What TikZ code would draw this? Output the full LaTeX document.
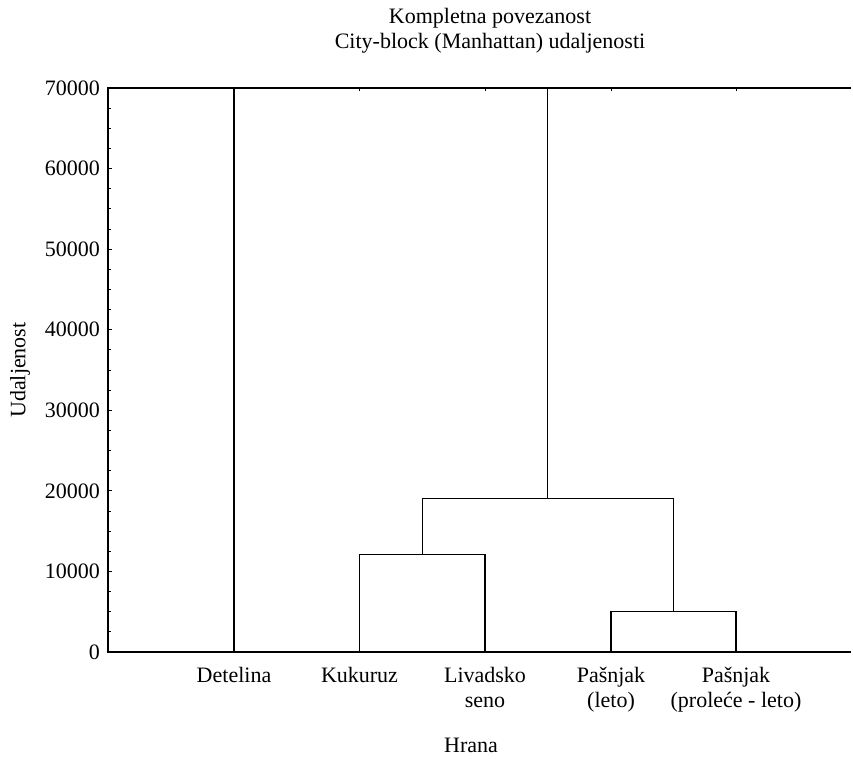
\documentclass[tikz,border=0pt]{standalone}
\usepackage{fontspec}
\setmainfont{Liberation Serif}
\usetikzlibrary{positioning}
\tikzstyle{branch} = [draw, line width=1.1pt, line cap=rect]
\tikzstyle{frame} = [draw, line width=1.5pt]
\tikzstyle{tick} = [draw, line width=0.8pt]
\tikzstyle{lbl} = [font=\fontsize{22}{25}\selectfont]

\begin{document}
\begin{tikzpicture}[x=1pt, y=1pt]
            \tikzstyle{every node}+=[inner sep=0pt, lbl]
            \useasboundingbox (0,0) rectangle (853,758);
            \draw (490,734) node [anchor=base] (t1) {Kompletna povezanost};
            \draw (490,709) node [anchor=base] (t2) {City-block (Manhattan) udaljenosti};
            \draw (20,388) node [rotate=90] (ytitle) {Udaljenost};
            \draw (471,13) node (xtitle) {Hrana};
            \begin{scope}[shift={(108,106)}, y=8.057pt]
                % leaves and merges
                \coordinate (det) at (126,0);
                \coordinate (kuk) at (251.5,0);
                \coordinate (liv) at (377,0);
                \coordinate (pl) at (503,0);
                \coordinate (pp) at (628,0);
                \coordinate (m1) at (314.25,12.1);
                \coordinate (m2) at (565.5,5);
                \coordinate (m3) at (439.9,19);
                \coordinate (top) at (0,70);
                % frame and ticks
                \path [frame] (743,70) -- (0,70) -- (0,0) -- (743,0);
                \foreach \v in {2.5,5,7.5,12.5,15,17.5,22.5,25,27.5,32.5,35,37.5,42.5,45,47.5,52.5,55,57.5,62.5,65,67.5}
                    \path [tick] (0,\v) -- ++(2.5,0);
                \foreach \v/\t in {0/0,10/10000,20/20000,30/30000,40/40000,50/50000,60/60000,70/70000}
                {
                    \path [tick] (0,\v) -- ++(4,0);
                    \draw (-8,\v) node [anchor=east] (y\v) {\t};
                }
                \foreach \x in {251.5,377,503,628}
                    \path [tick] (\x,70) -- ++(0,-0.4);
                % dendrogram
                \path [branch] (kuk) |- (m1) -| (liv);
                \path [branch] (pl) |- (m2) -| (pp);
                \path [branch] (m1) |- (m3) -| (m2);
                \path [branch] (m3) -- (m3 |- top);
                \path [branch] (det) -- (det |- top);
                % leaf labels
                \node [below=15pt of det, align=center] (ldet) {Detelina};
                \node [below=15pt of kuk, align=center] (lkuk) {Kukuruz};
                \node [below=15pt of liv, align=center] (lliv) {Livadsko\\seno};
                \node [below=15pt of pl, align=center] (lpl) {Pašnjak\\(leto)};
                \node [below=15pt of pp, align=center] (lpp) {Pašnjak\\(proleće - leto)};
            \end{scope}
            \end{tikzpicture}
\end{document}
